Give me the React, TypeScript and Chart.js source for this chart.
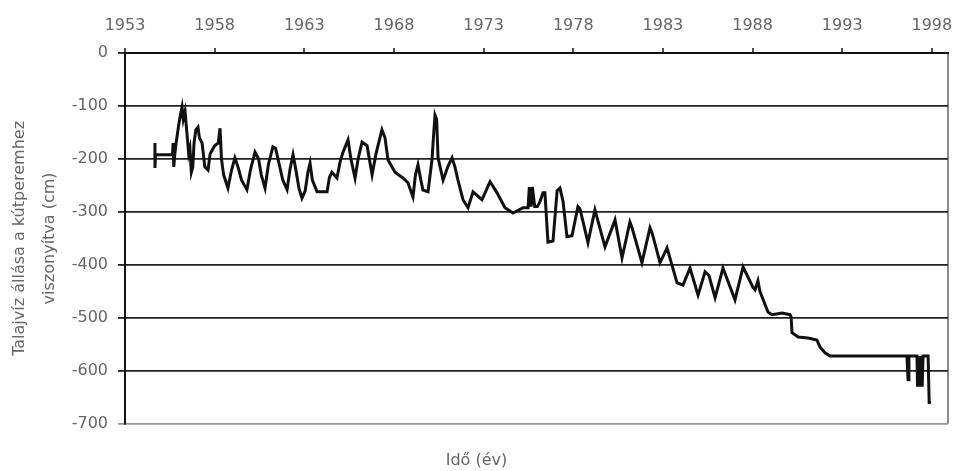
import React, { useEffect, useRef } from "react";
import { Chart, registerables } from "chart.js";

Chart.register(...registerables);

const yearTicks = [1953, 1958, 1963, 1968, 1973, 1978, 1983, 1988, 1993, 1998];
const levelTicks = [0, -100, -200, -300, -400, -500, -600, -700];
const xMin = 1953;
const xMax = 1998.9;

const timeYears = [
  1954.67, 1954.67, 1954.70, 1955.65, 1955.68, 1955.72, 1955.78, 1955.85, 1956.00, 1956.10,
  1956.18, 1956.25, 1956.35, 1956.45, 1956.55, 1956.62, 1956.70, 1956.78, 1956.85, 1956.95,
  1957.07, 1957.15, 1957.30, 1957.45, 1957.63, 1957.75, 1958.00, 1958.20, 1958.30, 1958.38,
  1958.50, 1958.74, 1958.95, 1959.13, 1959.30, 1959.50, 1959.80, 1960.00, 1960.25, 1960.45,
  1960.60, 1960.81, 1961.00, 1961.25, 1961.40, 1961.60, 1961.80, 1962.04, 1962.20, 1962.37,
  1962.50, 1962.70, 1962.87, 1963.05, 1963.20, 1963.32, 1963.45, 1963.71, 1964.27, 1964.40,
  1964.54, 1964.82, 1965.00, 1965.16, 1965.44, 1965.60, 1965.83, 1966.00, 1966.22, 1966.50,
  1966.78, 1967.00, 1967.33, 1967.50, 1967.67, 1968.06, 1968.50, 1968.78, 1969.06, 1969.20,
  1969.34, 1969.50, 1969.62, 1969.90, 1970.12, 1970.20, 1970.29, 1970.38, 1970.46, 1970.74,
  1971.00, 1971.24, 1971.40, 1971.57, 1971.85, 1972.13, 1972.41, 1972.91, 1973.36, 1973.75,
  1974.19, 1974.64, 1975.20, 1975.48, 1975.55, 1975.65, 1975.72, 1975.85, 1976.00, 1976.15,
  1976.31, 1976.42, 1976.59, 1976.87, 1977.10, 1977.26, 1977.43, 1977.65, 1977.93, 1978.26,
  1978.38, 1978.82, 1979.21, 1979.77, 1980.33, 1980.72, 1981.16, 1981.28, 1981.83, 1982.28,
  1982.40, 1982.84, 1983.23, 1983.79, 1984.12, 1984.51, 1984.96, 1985.35, 1985.57, 1985.91,
  1986.35, 1987.02, 1987.47, 1988.03, 1988.14, 1988.30, 1988.41, 1988.86, 1989.08, 1989.64,
  1990.09, 1990.15, 1990.20, 1990.54, 1991.09, 1991.59, 1991.76, 1992.04, 1992.32, 1996.61,
  1996.67, 1996.72, 1997.17, 1997.20, 1997.28, 1997.34, 1997.40, 1997.46, 1997.51, 1997.79,
  1997.85, 1997.95,
];

const levelsCm = [
  -170, -217, -192, -192, -170, -215, -190, -170, -135, -115,
  -102, -125, -110, -150, -190, -180, -225, -215, -170, -145,
  -140, -160, -170, -215, -221, -190, -175, -170, -142, -200,
  -230, -255, -220, -198, -215, -240, -258, -220, -187, -200,
  -230, -255, -210, -177, -180, -210, -240, -258, -220, -192,
  -215, -255, -274, -260, -225, -208, -240, -262, -262, -235,
  -225, -236, -205, -187, -164, -200, -236, -200, -168, -175,
  -230, -190, -145, -160, -202, -225, -236, -245, -272, -230,
  -211, -240, -259, -262, -202, -160, -117, -125, -198, -240,
  -215, -198, -215, -240, -277, -292, -262, -277, -243, -264,
  -292, -302, -292, -292, -253, -290, -253, -290, -290, -280,
  -264, -264, -357, -355, -260, -255, -280, -347, -345, -290,
  -295, -358, -296, -366, -315, -387, -319, -330, -396, -330,
  -340, -396, -368, -434, -438, -406, -457, -413, -420, -462,
  -406, -466, -404, -443, -447, -430, -450, -489, -494, -491,
  -494, -498, -528, -536, -538, -542, -555, -566, -572, -572,
  -617, -572, -572, -630, -572, -630, -572, -630, -572, -572,
  -660, -660,
];

const xTitle = "Idő (év)";
const yTitle = ["Talajvíz állása a kútperemhez", "viszonyítva (cm)"];

export default function App() {
  const canvasRef = useRef<HTMLCanvasElement | null>(null);

  useEffect(() => {
    if (!canvasRef.current) return;
    const points = timeYears.map((x, i) => ({ x, y: levelsCm[i] }));
    const textColor = "#666";
    const font = "'DejaVu Sans', 'Liberation Sans', sans-serif";
    const chart = new Chart(canvasRef.current, {
      type: "line",
      data: {
        datasets: [
          {
            data: points,
            borderColor: "#111",
            borderWidth: 3,
            pointRadius: 0,
            tension: 0,
            fill: false,
            borderJoinStyle: "miter",
          },
        ],
      },
      options: {
        animation: false,
        responsive: true,
        maintainAspectRatio: false,
        layout: { padding: { top: 0, left: 5, right: 7, bottom: 0 } },
        plugins: {
          legend: { display: false },
          tooltip: { enabled: false },
          title: {
            display: true,
            text: xTitle,
            position: "bottom",
            color: textColor,
            font: { family: font, size: 16, weight: "normal", lineHeight: 1.2 },
            padding: { top: 27, bottom: 1 },
          },
        },
        scales: {
          x: {
            type: "linear",
            position: "top",
            min: xMin,
            max: xMax,
            afterBuildTicks: (scale: any) => {
              scale.ticks = [...yearTicks, xMax].map((v) => ({ value: v }));
            },
            afterFit: (scale: any) => {
              scale.height = 53;
              scale.paddingRight = 0;
              scale.paddingLeft = 0;
            },
            ticks: {
              color: textColor,
              font: { family: font, size: 16 },
              padding: 13,
              maxRotation: 0,
              autoSkip: false,
              callback: (v: any) => (yearTicks.includes(v) ? String(v) : ""),
            },
            grid: {
              drawOnChartArea: true,
              drawTicks: true,
              tickLength: 5,
              color: (ctx: any) =>
                ctx.tick && ctx.tick.value === xMax ? "#8a8a8a" : "rgba(0,0,0,0)",
              tickColor: (ctx: any) =>
                ctx.tick && ctx.tick.value === xMax ? "rgba(0,0,0,0)" : "#111",
              lineWidth: 2,
              tickWidth: 1.5,
            },
            border: { display: true, color: "#111", width: 2 },
          },
          y: {
            type: "linear",
            min: -700,
            max: 0,
            afterBuildTicks: (scale: any) => {
              scale.ticks = levelTicks.map((v) => ({ value: v }));
            },
            afterFit: (scale: any) => {
              scale.width = 120;
            },
            ticks: {
              color: textColor,
              font: { family: font, size: 16 },
              padding: 10,
              callback: (v: any) => String(v),
            },
            grid: {
              drawTicks: true,
              tickLength: 7,
              color: (ctx: any) => (ctx.tick && ctx.tick.value === -700 ? "#999" : "#222"),
              lineWidth: 1.8,
            },
            border: { display: true, color: "#111", width: 2 },
            title: {
              display: true,
              text: yTitle,
              color: textColor,
              font: { family: font, size: 16, weight: "normal", lineHeight: 1.85 },
              padding: { top: 0, bottom: 0 },
            },
          },
        },
      },
    });
    return () => chart.destroy();
  }, []);

  return (
    <div style={{ position: "fixed", left: 0, top: 0, width: 955, height: 471, background: "#fff" }}>
      <canvas ref={canvasRef} />
    </div>
  );
}
